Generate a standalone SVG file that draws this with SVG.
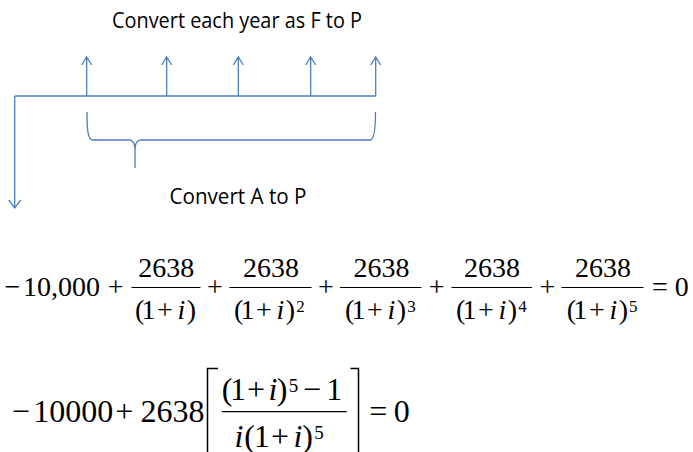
<svg xmlns="http://www.w3.org/2000/svg" width="693" height="452" viewBox="0 0 693 452">
<style>
.ln{fill:none;stroke:#4a7ebb;stroke-width:1.3;stroke-linecap:butt}
.lbl{font-family:"Open Sans","Liberation Sans",sans-serif;font-size:21px;fill:#000}
.m{font-family:"Liberation Serif","Times New Roman",serif;fill:#000;text-anchor:middle}
.e1{font-size:28px}
.s1{font-size:17px}
.e2{font-size:32px}
.s2{font-size:19px}
.it{font-style:italic}
.bar{stroke:#000;stroke-width:1.2}
.br{fill:none;stroke:#000;stroke-width:1.5}
</style>
<g id="connectors">
<path class="ln" d="M14.7,96 L375.7,96"/>
<path class="ln" d="M14.7,96 L14.7,208"/>
<path class="ln" d="M8.7,200 L14.7,208 L20.7,200"/>
<path class="ln" d="M86.7,96 L86.7,57 M81.7,65 L86.7,57 L91.7,65"/>
<path class="ln" d="M166.7,96 L166.7,57 M161.7,65 L166.7,57 L171.7,65"/>
<path class="ln" d="M238.3,96 L238.3,57 M233.3,65 L238.3,57 L243.3,65"/>
<path class="ln" d="M310.7,96 L310.7,57 M305.7,65 L310.7,57 L315.7,65"/>
<path class="ln" d="M375.7,96 L375.7,57 M370.7,65 L375.7,57 L380.7,65"/>
<path class="ln" d="M87,112 C87,131 88,140 93,140 L129,140 C133,140 135,143 135,150 L135,168 M135,150 C135,143 137,140 141,140 L370,140 C374,140 375.5,131 375.5,112"/>
</g>
<g id="label-top"><text class="lbl" x="112" y="28.3" textLength="250" lengthAdjust="spacingAndGlyphs">Convert each year as F to P</text></g>
<g id="label-bottom"><text class="lbl" x="169.5" y="204" textLength="137" lengthAdjust="spacingAndGlyphs">Convert A to P</text></g>
<g id="equation1">
<text class="m e1" y="296"><tspan x="12.5">−</tspan><tspan x="61.5">10,000</tspan><tspan x="115.7">+</tspan><tspan x="215">+</tspan><tspan x="325.8">+</tspan><tspan x="436.7">+</tspan><tspan x="547.5">+</tspan><tspan x="660">=</tspan><tspan x="681.7">0</tspan></text>
<text class="m e1" y="276.5"><tspan x="166.2">2638</tspan><tspan x="271">2638</tspan><tspan x="381.5">2638</tspan><tspan x="492">2638</tspan><tspan x="603">2638</tspan></text>
<path class="bar" d="M131.5,287.5 H200.5 M229.5,287.5 H311.5 M340,287.5 H421.5 M451.5,287.5 H532 M561.5,287.5 H643.5"/>
<text class="m e1" y="318.5"><tspan x="139.6">(</tspan><tspan x="148.5">1</tspan><tspan x="165">+</tspan><tspan class="it" x="181.5">i</tspan><tspan x="191.5">)</tspan></text>
<text class="m e1" y="318.5"><tspan x="238.6">(</tspan><tspan x="247.5">1</tspan><tspan x="264">+</tspan><tspan class="it" x="280.5">i</tspan><tspan x="290.5">)</tspan></text>
<text class="m s1" x="300.5" y="312">2</text>
<text class="m e1" y="318.5"><tspan x="349.6">(</tspan><tspan x="358.5">1</tspan><tspan x="375">+</tspan><tspan class="it" x="391.5">i</tspan><tspan x="401.5">)</tspan></text>
<text class="m s1" x="411.5" y="312">3</text>
<text class="m e1" y="318.5"><tspan x="460.6">(</tspan><tspan x="469.5">1</tspan><tspan x="486">+</tspan><tspan class="it" x="502.5">i</tspan><tspan x="512.5">)</tspan></text>
<text class="m s1" x="522.5" y="312">4</text>
<text class="m e1" y="318.5"><tspan x="571.4">(</tspan><tspan x="580.3">1</tspan><tspan x="596.8">+</tspan><tspan class="it" x="613.3">i</tspan><tspan x="623.3">)</tspan></text>
<text class="m s1" x="633.3" y="312">5</text>
</g>
<g id="equation2">
<text class="m e2" y="421.5"><tspan x="20.8">−</tspan><tspan x="73.3">10000</tspan><tspan x="124.2">+</tspan><tspan x="172.5">2638</tspan><tspan x="378.3">=</tspan><tspan x="401.7">0</tspan></text>
<path class="br" d="M218,368.5 H207.5 V460 M350.5,368.5 H358.5 V460"/>
<path class="bar" d="M221.7,411.7 H346.7"/>
<text class="m e2" y="400"><tspan x="227">(</tspan><tspan x="238">1</tspan><tspan x="256">+</tspan><tspan class="it" x="273">i</tspan><tspan x="282">)</tspan><tspan x="312">−</tspan><tspan x="334.2">1</tspan></text>
<text class="m s2" x="293.5" y="392">5</text>
<text class="m e2" y="446.5"><tspan class="it" x="239">i</tspan><tspan x="249.5">(</tspan><tspan x="261.7">1</tspan><tspan x="280">+</tspan><tspan class="it" x="298">i</tspan><tspan x="307.5">)</tspan></text>
<text class="m s2" x="319" y="438.5">5</text>
</g>
</svg>
